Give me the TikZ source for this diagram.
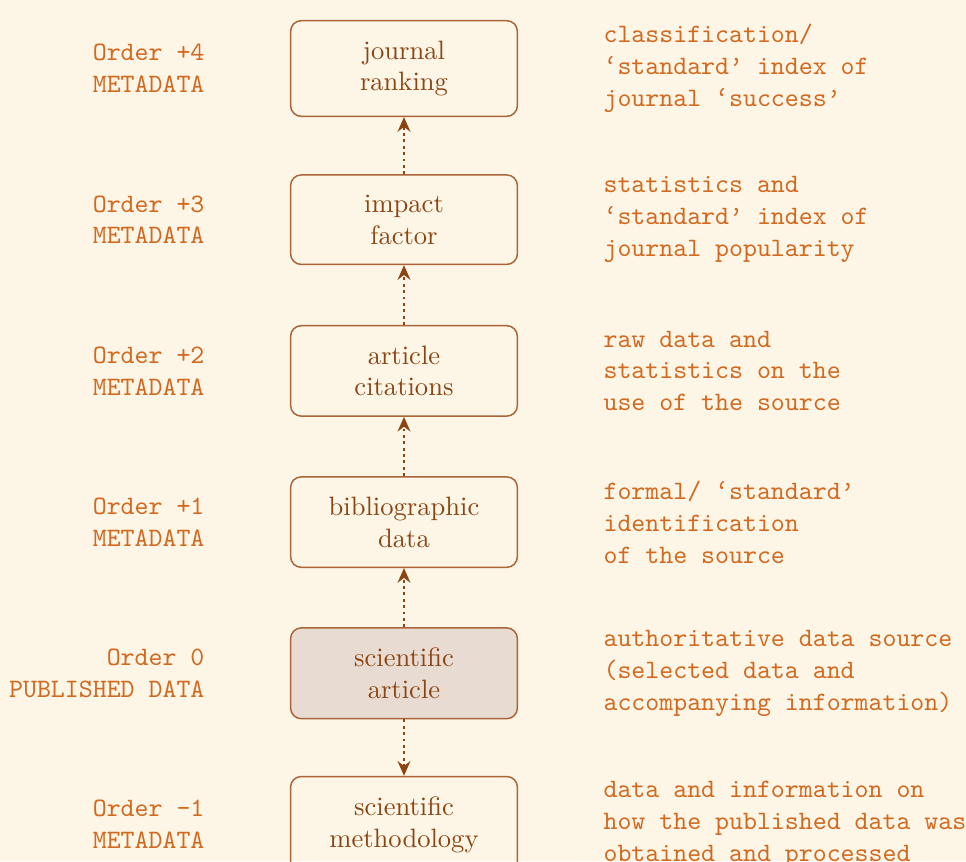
\documentclass[tikz,border=0pt]{standalone}
\usetikzlibrary{arrows.meta}
\definecolor{bg}{RGB}{253,245,230}
\definecolor{lbl}{RGB}{210,105,30}
\definecolor{boxtext}{RGB}{139,69,19}
\definecolor{boxborder}{RGB}{170,100,55}
\definecolor{boxfill}{RGB}{232,219,210}
\definecolor{arr}{RGB}{139,69,19}
\begin{document}
\begin{tikzpicture}[
  stage/.style={draw=boxborder, line width=0.55pt, rounded corners=4pt,
    minimum width=3cm, inner xsep=4pt, inner ysep=7.5pt, align=center,
    text=boxtext, font=\normalfont},
  hl/.style={fill=boxfill},
  order/.style={anchor=east, align=right, inner sep=0pt, text=lbl, font=\ttfamily},
  desc/.style={anchor=west, align=left, inner sep=0pt, text=lbl, font=\ttfamily},
  flow/.style={draw=arr, line width=1.1pt, dash pattern=on 1.1pt off 1.3pt,
    -{Stealth[length=5.5pt,width=4.8pt,inset=1.8pt,sep=0pt]}}
]
\useasboundingbox (-5.344,0.906) rectangle (7.434,-10.483);
\clip (-5.344,0.906) rectangle (7.434,-10.483);
\fill[bg] (-5.344,0.906) rectangle (7.434,-10.483);

\node[stage] (r4) at (0,0) {journal\\ranking};
\node[stage] (r3) at (0,-2) {impact\\factor};
\node[stage] (r2) at (0,-4) {article\\citations};
\node[stage] (r1) at (0,-6) {bibliographic\\data};
\node[stage,hl] (r0) at (0,-8) {scientific\\article};
\node[stage] (rm) at (0,-10) {scientific\\methodology};

\node[order] (o4) at (-2.633,0) {Order +4\\METADATA};
\node[order] (o3) at (-2.633,-2) {Order +3\\METADATA};
\node[order] (o2) at (-2.633,-4) {Order +2\\METADATA};
\node[order] (o1) at (-2.633,-6) {Order +1\\METADATA};
\node[order] (o0) at (-2.633,-8) {Order 0\\PUBLISHED DATA};
\node[order] (om) at (-2.633,-10) {Order -1\\METADATA};

\node[desc] (d4) at (2.633,0) {classification/\\‘standard’ index of\\journal ‘success’};
\node[desc] (d3) at (2.633,-2) {statistics and\\‘standard’ index of\\journal popularity};
\node[desc] (d2) at (2.633,-4) {raw data and\\statistics on the\\use of the source};
\node[desc] (d1) at (2.633,-6) {formal/ ‘standard’\\identification\\of the source};
\node[desc] (d0) at (2.633,-8) {authoritative data source\\(selected data and\\accompanying information)};
\node[desc] (dm) at (2.633,-10) {data and information on\\how the published data was\\obtained and processed};

\draw[flow] (r3.north) -- (r4.south);
\draw[flow] (r2.north) -- (r3.south);
\draw[flow] (r1.north) -- (r2.south);
\draw[flow] (r0.north) -- (r1.south);
\draw[flow] (r0.south) -- (rm.north);
\end{tikzpicture}
\end{document}
